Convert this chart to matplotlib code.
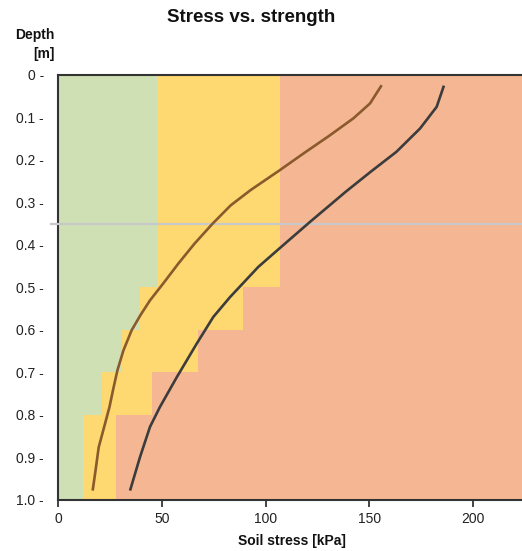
import matplotlib
matplotlib.use("Agg")
import matplotlib.pyplot as plt

plt.rcParams['font.family'] = ['Liberation Sans', 'DejaVu Sans']

# Zone boundaries (depth in m, stress limits in kPa)
zone_depth_top = [0.0, 0.5, 0.6, 0.7, 0.8]
zone_depth_bottom = [0.5, 0.6, 0.7, 0.8, 1.0]
green_limit = [47.5, 39.5, 30.7, 21.0, 12.2]
yellow_limit = [106.8, 89.0, 67.6, 45.1, 27.8]

# Curves: stress (kPa) vs depth (m)
brown_depth = [0.024, 0.067, 0.102, 0.142, 0.185, 0.224, 0.271, 0.307, 0.350, 0.397,
               0.444, 0.491, 0.531, 0.565, 0.601, 0.649, 0.696, 0.740, 0.782, 0.837,
               0.877, 0.924, 0.979]
brown_stress = [155.9, 150.3, 142.3, 131.0, 118.2, 106.9, 92.8, 83.2, 74.5, 65.8,
                58.0, 50.7, 44.3, 39.8, 35.5, 31.5, 28.6, 26.6, 24.8, 21.8,
                19.6, 18.3, 16.7]

dark_depth = [0.025, 0.075, 0.126, 0.181, 0.228, 0.275, 0.346, 0.405, 0.452, 0.523,
              0.570, 0.633, 0.712, 0.782, 0.829, 0.900, 0.979]
dark_stress = [185.9, 182.4, 174.4, 163.0, 150.6, 138.6, 121.4, 107.5, 96.5, 82.9,
               74.8, 66.8, 57.2, 49.1, 44.3, 39.5, 34.7]

water_depth = 0.35

x_ticks = [0, 50, 100, 150, 200]
y_ticks = [0.0, 0.1, 0.2, 0.3, 0.4, 0.5, 0.6, 0.7, 0.8, 0.9, 1.0]
y_tick_labels = ["0 -", "0.1 -", "0.2 -", "0.3 -", "0.4 -", "0.5 -", "0.6 -",
                 "0.7 -", "0.8 -", "0.9 -", "1.0 -"]

W, H = 522, 551
fig = plt.figure(figsize=(W / 100, H / 100), dpi=100)
ax = fig.add_axes([58 / W, 1 - 499.5 / H, (W - 58) / W, (499.5 - 75) / H])

c_green = '#cfe0b4'
c_yellow = '#fed870'
c_orange = '#f5b793'
ax.set_facecolor(c_orange)

heights = [b - t for t, b in zip(zone_depth_top, zone_depth_bottom)]
ax.barh(zone_depth_top, yellow_limit, height=heights, left=0, align='edge',
        color=c_yellow, linewidth=0, zorder=1)
ax.barh(zone_depth_top, green_limit, height=heights, left=0, align='edge',
        color=c_green, linewidth=0, zorder=2)

ax.axhline(water_depth, xmin=-0.016, xmax=1.0, color='#c8c8c8', lw=1.6,
           clip_on=False, zorder=3)

ax.plot(brown_stress, brown_depth, color='#8a5a2c', lw=1.9, zorder=4,
        solid_capstyle='butt', solid_joinstyle='round')
ax.plot(dark_stress, dark_depth, color='#3c3c3c', lw=1.9, zorder=4,
        solid_capstyle='butt', solid_joinstyle='round')

ax.set_xlim(0, (W - 58) / 2.076)
ax.set_ylim(1.0, 0.0)

ax.set_xticks(x_ticks)
ax.set_xticklabels([str(v) for v in x_ticks])
ax.set_yticks(y_ticks)
ax.set_yticklabels(y_tick_labels)
ax.tick_params(axis='y', length=0, pad=10, labelsize=10, colors='#222222')
ax.tick_params(axis='x', length=5, width=1.2, direction='out', pad=4,
               labelsize=10, colors='#222222')

for side in ['left', 'bottom', 'top']:
    ax.spines[side].set_color('#333333')
    ax.spines[side].set_linewidth(1.5)
ax.spines['right'].set_visible(False)

fig.text(251 / W, 1 - 17 / H, "Stress vs. strength", ha='center', va='center',
         fontsize=13.5, fontweight='bold', color='#111111')
fig.text(55 / W, 1 - 35 / H, "Depth", ha='right', va='center',
         fontsize=10, fontweight='bold', color='#111111')
fig.text(55 / W, 1 - 54 / H, "[m]", ha='right', va='center',
         fontsize=10, fontweight='bold', color='#111111')
fig.text(292 / W, 1 - 541 / H, "Soil stress [kPa]", ha='center', va='center',
         fontsize=10, fontweight='bold', color='#111111')

fig.savefig("out.png", dpi=100)
